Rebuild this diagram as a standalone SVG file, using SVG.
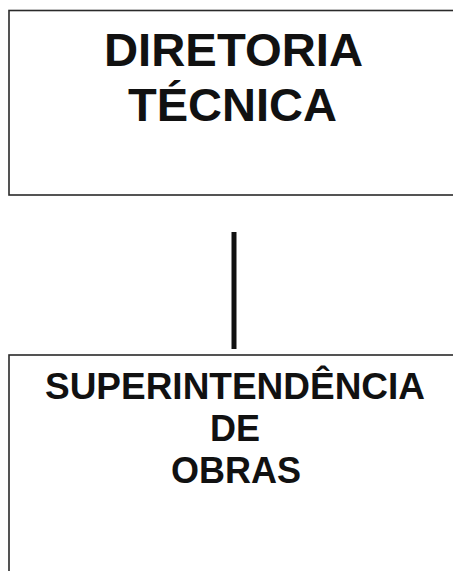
<svg xmlns="http://www.w3.org/2000/svg" width="453" height="571" viewBox="0 0 453 571">
<style>
.box{fill:#fff;stroke:#2a2a2a;stroke-width:1.6}
.t1{font-family:"Liberation Sans",Arial,sans-serif;font-weight:bold;font-size:47px;fill:#111;text-anchor:middle}
.t2{font-family:"Liberation Sans",Arial,sans-serif;font-weight:bold;font-size:36px;fill:#111;text-anchor:middle}
.conn{stroke:#111;stroke-width:5;fill:none}
</style>
<rect x="0" y="0" width="453" height="571" fill="#fff"/>
<g id="connectors">
<line class="conn" x1="234" y1="232" x2="234" y2="349"/>
</g>
<g id="diretoria-tecnica">
<rect class="box" x="9" y="10.5" width="470" height="184.5"/>
<text class="t1" x="233.5" y="66" textLength="259" lengthAdjust="spacingAndGlyphs">DIRETORIA</text>
<text class="t1" x="232.5" y="121" textLength="209" lengthAdjust="spacingAndGlyphs">TÉCNICA</text>
</g>
<g id="superintendencia-obras">
<rect class="box" x="9" y="355" width="470" height="240"/>
<text class="t2" x="235" y="399" textLength="380" lengthAdjust="spacingAndGlyphs">SUPERINTENDÊNCIA</text>
<text class="t2" x="235" y="441">DE</text>
<text class="t2" x="236" y="483">OBRAS</text>
</g>
</svg>
